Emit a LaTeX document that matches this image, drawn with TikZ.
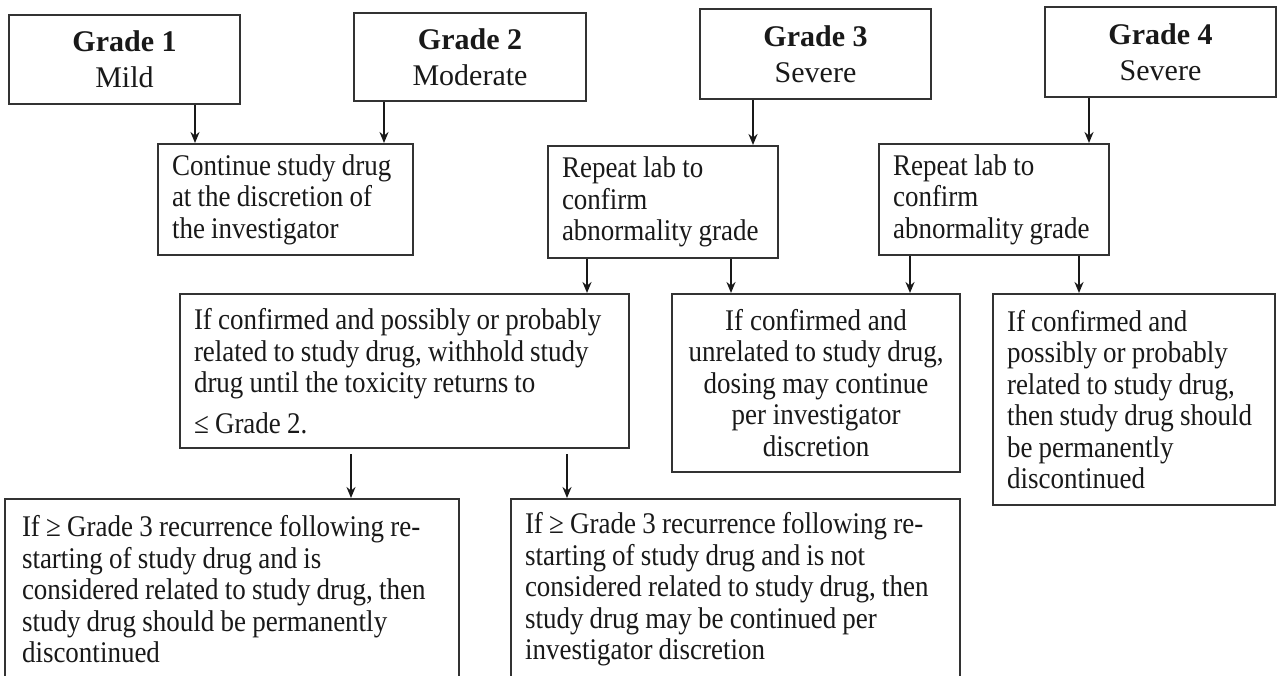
\documentclass[tikz,border=0pt]{standalone}
\usepackage{fontspec}
\setmainfont{Liberation Serif}
\newfontfamily\narrowserif{Liberation Serif}[FakeStretch=0.9]
\newcommand\bodyfnt{\narrowserif\fontsize{30}{31.5}\selectfont}
\newcommand\tightspace{\spaceskip=6.2pt plus 1pt minus 1pt\relax\xspaceskip=6.6pt\relax}
\usetikzlibrary{arrows.meta,calc}
\begin{document}
\begin{tikzpicture}[x=1pt,y=-1pt,
  box/.style={draw=black!80, line width=2pt, inner xsep=14pt, inner ysep=0pt,
    font=\bodyfnt, align=left, text=black!90, execute at begin node=\tightspace},
  grade/.style={draw=black!80, line width=2pt, inner sep=0pt,
    font=\fontsize{30}{36}\selectfont, align=center, text=black!90},
  arr/.style={line width=2.2pt, draw=black!90, -{Stealth[length=11pt,width=9pt]}}]
\useasboundingbox (0,0) rectangle (1281,675);
\clip (0,0) rectangle (1281,675);
% grade boxes
\node[grade, minimum width=231pt, minimum height=89pt] (g1) at (124.5,59.5) {\textbf{Grade 1}\\Mild};
\node[grade, minimum width=232pt, minimum height=88pt] (g2) at (470,57) {\textbf{Grade 2}\\Moderate};
\node[grade, minimum width=231pt, minimum height=90pt] (g3) at (815.5,54) {\textbf{Grade 3}\\Severe};
\node[grade, minimum width=231pt, minimum height=90pt] (g4) at (1160.5,52) {\textbf{Grade 4}\\Severe};
% second row
\node[box, text width=227pt, minimum height=111pt] (cont) at (285.5,199.5)
  {Continue study drug\\at the discretion of\\the investigator};
\node[box, text width=202pt, minimum height=112pt] (rep1) at (663,202)
  {Repeat lab to\\confirm\\abnormality grade};
\node[box, text width=202pt, minimum height=111pt] (rep2) at (994,199.5)
  {Repeat lab to\\confirm\\abnormality grade};
% third row
\node[box, text width=421pt, minimum height=154pt] (mid) at (404.5,371)
  {If confirmed and possibly or probably\\related to study drug, withhold study\\drug until the toxicity returns to\\[9pt]≤ Grade 2.};
\node[box, text width=264pt, inner xsep=12pt, minimum height=178pt, align=center] (unrel) at (816,383)
  {If confirmed and\\unrelated to study drug,\\dosing may continue\\per investigator\\discretion};
\node[box, text width=254pt, minimum height=211pt] (g4res) at (1134,399.5)
  {If confirmed and\\possibly or probably\\related to study drug,\\then study drug should\\be permanently\\discontinued};
% bottom row
\node[box, text width=420pt, inner xsep=17pt, minimum height=181pt] (botl) at (232,589.5)
  {If ≥ Grade 3 recurrence following re-\\starting of study drug and is\\considered related to study drug, then\\study drug should be permanently\\discontinued};
\node[box, text width=421pt, minimum height=181pt] (botm) at (735.5,589.5)
  {If ≥ Grade 3 recurrence following re-\\starting of study drug and is not\\considered related to study drug, then\\study drug may be continued per\\investigator discretion};
% arrows
\draw[arr] ([xshift=70.5pt]g1.south) -- ([xshift=70.5pt]g1.south |- cont.north);
\draw[arr] ([xshift=-86pt]g2.south) -- ([xshift=-86pt]g2.south |- cont.north);
\draw[arr] ([xshift=-62.5pt]g3.south) -- ([xshift=-62.5pt]g3.south |- rep1.north);
\draw[arr] ([xshift=-71.5pt]g4.south) -- ([xshift=-71.5pt]g4.south |- rep2.north);
\draw[arr] ([xshift=-76pt]rep1.south) -- ([xshift=-76pt]rep1.south |- mid.north);
\draw[arr] ([xshift=68pt]rep1.south) -- ([xshift=68pt]rep1.south |- unrel.north);
\draw[arr] ([xshift=-84pt]rep2.south) -- ([xshift=-84pt]rep2.south |- unrel.north);
\draw[arr] ([xshift=85pt]rep2.south) -- ([xshift=85pt]rep2.south |- g4res.north);
\draw[arr, shorten <=5pt] ([xshift=-53.5pt]mid.south) -- ([xshift=-53.5pt]mid.south |- botl.north);
\draw[arr, shorten <=5pt] ([xshift=162.5pt]mid.south) -- ([xshift=162.5pt]mid.south |- botm.north);
\end{tikzpicture}
\end{document}
